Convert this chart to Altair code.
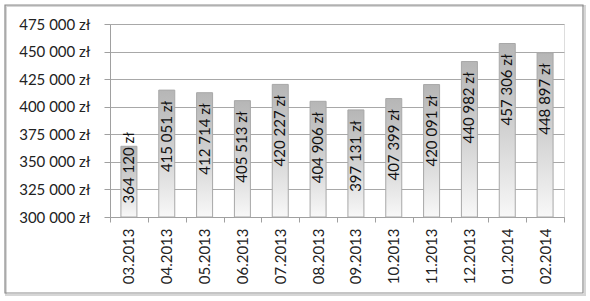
import altair as alt
import pandas as pd

months = ["03.2013", "04.2013", "05.2013", "06.2013", "07.2013", "08.2013",
          "09.2013", "10.2013", "11.2013", "12.2013", "01.2014", "02.2014"]
values = [364120, 415051, 412714, 405513, 420227, 404906,
          397131, 407399, 420091, 440982, 457306, 448897]
y_ticks = [300000, 325000, 350000, 375000, 400000, 425000, 450000, 475000]

df = pd.DataFrame({"month": months, "value": values})
df["label"] = [f"{v:,}".replace(",", " ") + " zł" for v in values]

FONT = "Lato"
W, H = 454, 193

x_axis = alt.Axis(labelAngle=270, tickBand="extent", tickSize=5,
                  labelPadding=6, labelFontSize=15, labelFont=FONT,
                  labelColor="#222222", domainColor="#a0a0a0",
                  tickColor="#a0a0a0", grid=False)
y_axis = alt.Axis(values=y_ticks, labelExpr="replace(format(datum.value, ',d'), ',', ' ') + ' zł'",
                  labelFontSize=15, labelFont=FONT, labelColor="#222222",
                  labelPadding=14, tickSize=6, tickColor="#a0a0a0",
                  domainColor="#a0a0a0", gridColor="#a8a8a8", labelOverlap=False)
x_scale = alt.Scale(paddingInner=0, paddingOuter=0)
y_scale = alt.Scale(domain=[300000, 475000], nice=False, zero=False)

bars = alt.Chart(df).mark_bar(
    size=16,
    stroke="#a8a8a8", strokeWidth=1,
    color=alt.Gradient(gradient="linear",
                       stops=[alt.GradientStop(color="#b6b6b6", offset=0),
                              alt.GradientStop(color="#d2d2d2", offset=0.5),
                              alt.GradientStop(color="#f8f8f8", offset=1)],
                       x1=0, x2=0, y1=0, y2=1),
).encode(
    x=alt.X("month:N", sort=months, title=None, scale=x_scale, axis=x_axis),
    y=alt.Y("value:Q", scale=y_scale, title=None, axis=y_axis),
    y2=alt.datum(300000),
)

text = alt.Chart(df).transform_calculate(
    anchor="max(datum.value - 9700, 377000)"
).mark_text(angle=270, align="right", baseline="middle", font=FONT,
            fontSize=15, color="#111111").encode(
    x=alt.X("month:N", sort=months, title=None, scale=x_scale, axis=x_axis),
    y=alt.Y("anchor:Q", scale=y_scale, title=None, axis=y_axis),
    text="label:N",
)

frame_data = alt.Data(values=[{"a": 1}])
shadow = alt.Chart(frame_data).mark_rect(fill=None, stroke="#d6d6d6", strokeWidth=2).encode(
    x=alt.value(-104), x2=alt.value(475), y=alt.value(-18), y2=alt.value(271))
frame = alt.Chart(frame_data).mark_rect(fill=None, stroke="#8c8c8c", strokeWidth=1.2).encode(
    x=alt.value(-105), x2=alt.value(473), y=alt.value(-19), y2=alt.value(269))

chart = alt.layer(bars, text, shadow, frame).properties(
    width=W, height=H,
    padding={"left": 110, "top": 24, "right": 590 - 110 - W, "bottom": 301 - 24 - H},
    autosize=alt.AutoSizeParams(type="none"),
).configure_view(stroke=None).configure(background="white")

chart.save("out.html", embed_options={"renderer": "svg", "actions": False})
